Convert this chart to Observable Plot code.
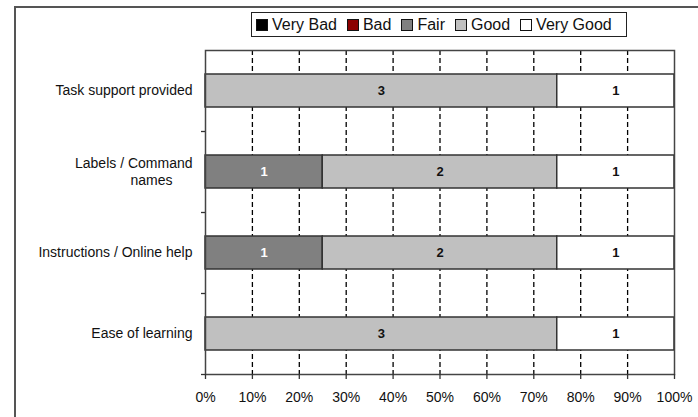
<!DOCTYPE html>
<html>
<head>
<meta charset="utf-8">
<script src="https://cdn.jsdelivr.net/npm/d3@7"></script>
<script src="https://cdn.jsdelivr.net/npm/@observablehq/plot@0.6"></script>
<style>
  body { margin: 0; background: #fff; font-family: "Liberation Sans", Arial, sans-serif; }
  #wrap { position: relative; width: 698px; height: 417px; overflow: hidden; background: #fff; }
  #outer { position: absolute; left: 14px; top: 6px; width: 800px; height: 500px;
           border-left: 2px solid #555; border-top: 2px solid #555; pointer-events: none; }
  #legend { position: absolute; left: 251px; top: 12px; width: 376px; height: 22px;
            border: 1.5px solid #222; display: flex; align-items: center; justify-content: flex-start;
            padding-left: 4px; box-sizing: border-box; height: 25px;
            font-size: 16px; color: #111; white-space: nowrap; }
  .item { display: flex; align-items: center; margin: 0 10px 0 0; }
  .sw { width: 10px; height: 10px; border: 1px solid #111; margin-right: 4px; }
  #chart { position: absolute; left: 0; top: 0; }
</style>
</head>
<body>
<div id="wrap">
  <div id="chart"></div>
  <div id="outer"></div>
  <div id="legend"></div>
</div>
<script>
// ---- data ----
const categories = ["Task support provided", "Labels / Command\nnames", "Instructions / Online help", "Ease of learning"];
const ratings = ["Very Bad", "Bad", "Fair", "Good", "Very Good"];
const ratingColors = ["#000000", "#8b0000", "#808080", "#c0c0c0", "#ffffff"];
const veryBad  = [0, 0, 0, 0];
const bad      = [0, 0, 0, 0];
const fair     = [0, 1, 1, 0];
const good     = [3, 2, 2, 3];
const veryGood = [1, 1, 1, 1];
const xTicks = [0, 0.1, 0.2, 0.3, 0.4, 0.5, 0.6, 0.7, 0.8, 0.9, 1];

const series = [veryBad, bad, fair, good, veryGood];
const data = categories.flatMap((c, i) =>
  ratings.map((r, j) => ({category: c, rating: r, count: series[j][i]}))
).filter(d => d.count > 0);

// ---- legend ----
const legend = document.getElementById("legend");
ratings.forEach((r, j) => {
  const it = document.createElement("div");
  it.className = "item";
  if (j === ratings.length - 1) it.style.marginRight = "0";
  const sw = document.createElement("div");
  sw.className = "sw";
  sw.style.background = ratingColors[j];
  const t = document.createElement("span");
  t.textContent = r;
  it.appendChild(sw); it.appendChild(t);
  legend.appendChild(it);
});

// ---- chart ----
const W = 698, H = 417, mT = 50, mB = 43, mL = 205, mR = 24;
const step = (H - mT - mB) / categories.length;
const singleLine = categories.filter(c => !c.includes("\n"));
const multiLine = categories.filter(c => c.includes("\n"));

const chart = Plot.plot({
  width: W, height: H,
  marginTop: mT, marginBottom: mB, marginLeft: mL, marginRight: mR,
  style: {fontFamily: "'Liberation Sans', Arial, sans-serif", fontSize: "14px", color: "#111", background: "transparent"},
  x: {domain: [0, 1], label: null, axis: null},
  y: {domain: categories, paddingInner: 0.59, paddingOuter: 0.295, label: null, axis: null},
  color: {domain: ratings, range: ratingColors},
  marks: [
    Plot.gridX(xTicks.slice(1, -1), {stroke: "#000", strokeOpacity: 1, strokeDasharray: "5,3", strokeWidth: 1.3}),
    Plot.barX(data, Plot.stackX({x: "count", y: "category", fill: "rating", offset: "normalize", order: ratings,
      stroke: "#333", strokeWidth: 1.5})),
    Plot.text(data, Plot.stackX({x: "count", y: "category", z: "rating", offset: "normalize", order: ratings,
      text: d => String(d.count), fill: d => d.rating === "Fair" ? "#fff" : "#111",
      fontWeight: "bold", fontSize: 13})),
    Plot.frame({stroke: "#444", strokeWidth: 1.5}),
    Plot.axisX({ticks: xTicks, tickFormat: d3.format(".0%"), tickSize: 5, tickPadding: 13, label: null,
      stroke: "#333", strokeWidth: 1.3, fontSize: 14}),
    Plot.axisY({ticks: categories, tickSize: 4, tickFormat: () => "", dy: step / 2, label: null,
      stroke: "#333", strokeWidth: 1.3}),
    Plot.text(singleLine, {y: d => d, text: d => d, frameAnchor: "left", textAnchor: "end", dx: -13, fontSize: 14, fill: "#111"}),
    Plot.text(multiLine, {y: d => d, text: d => d.split("\n")[0], frameAnchor: "left", textAnchor: "end", dx: -13, dy: -8, fontSize: 14, fill: "#111"}),
    Plot.text(multiLine, {y: d => d, text: d => d.split("\n")[1], frameAnchor: "left", textAnchor: "middle", dx: -54, dy: 9, fontSize: 14, fill: "#111"})
  ]
});
document.getElementById("chart").appendChild(chart);
</script>
</body>
</html>
